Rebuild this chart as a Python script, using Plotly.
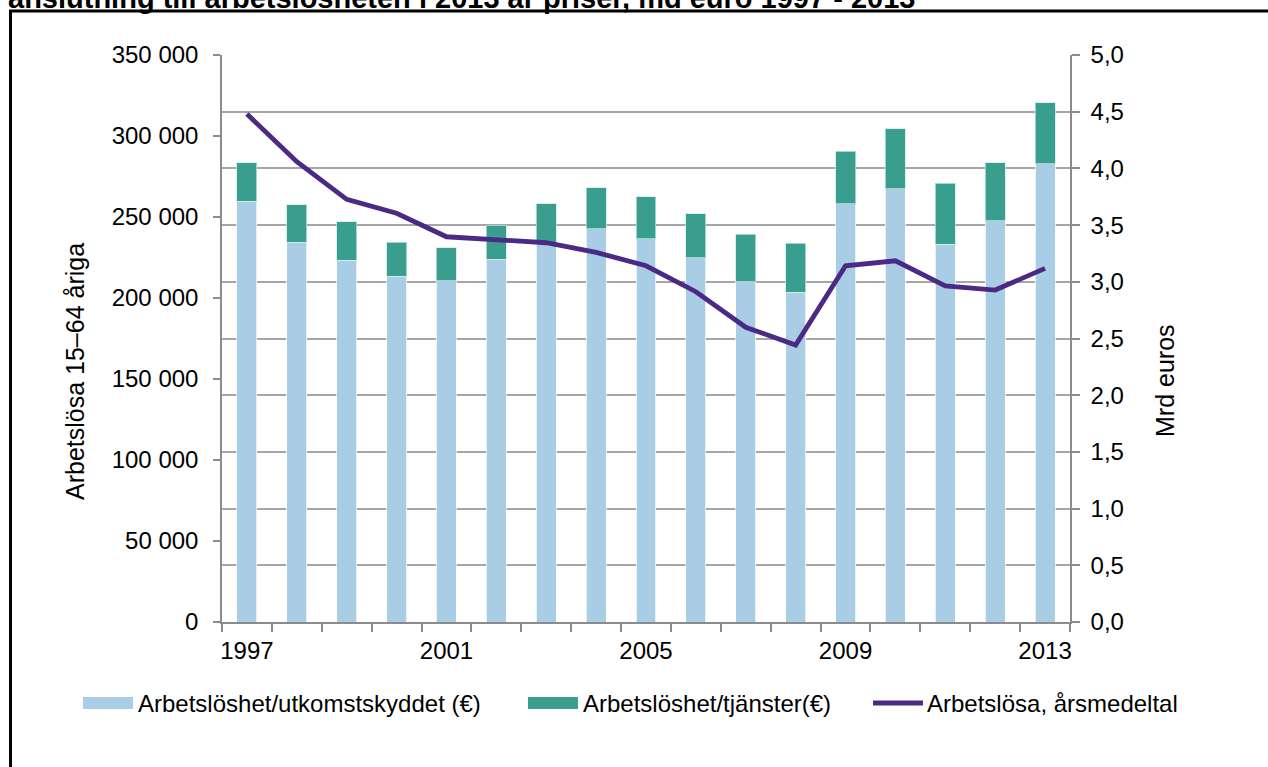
import plotly.graph_objects as go

years = list(range(1997, 2014))
utkomstskydd = [3.71, 3.35, 3.19, 3.05, 3.01, 3.20, 3.35, 3.47, 3.38, 3.21, 3.00, 2.91, 3.69, 3.82, 3.33, 3.54, 4.04]
tjanster = [0.34, 0.33, 0.34, 0.30, 0.29, 0.30, 0.34, 0.36, 0.37, 0.39, 0.42, 0.43, 0.46, 0.53, 0.54, 0.51, 0.54]
arbetslosa = [313600, 284100, 260900, 252300, 237800, 235800, 234100, 228200, 219900, 203900, 181900, 171000, 219900, 223000, 207400, 204900, 218300]
year_labels = [1997, 2001, 2005, 2009, 2013]
left_ticks = list(range(0, 350001, 50000))
right_ticks = [i * 0.5 for i in range(11)]
names = ["Arbetslöshet/utkomstskyddet (€)", "Arbetslöshet/tjänster(€)", "Arbetslösa, årsmedeltal"]
left_title = "Arbetslösa 15–64 åriga"
right_title = "Mrd euros"
title_text = "anslutning till arbetslösheten i 2013 år priser, md euro 1997 - 2013"

C_LIGHT = "#A9CDE4"
C_TEAL = "#3A9E8F"
C_LINE = "#4B2A86"
GRID = "#A6A6A6"
AX = "#8C8C8C"
FONT = "Liberation Sans, Arial, sans-serif"

W, H = 1268, 767
L, R, T, B = 222, 1070, 55, 622

def px(x):
    return (x - L) / (R - L)

def py(y):
    return (B - y) / (B - T)

fig = go.Figure()
fig.add_trace(go.Bar(x=years, y=utkomstskydd, name=names[0], yaxis="y", width=0.4,
                     marker=dict(color=C_LIGHT, line=dict(color="rgba(255,255,255,0.7)", width=1))))
fig.add_trace(go.Bar(x=years, y=tjanster, name=names[1], yaxis="y", width=0.4,
                     marker=dict(color=C_TEAL, line=dict(color="rgba(200,235,230,0.7)", width=1))))
fig.add_trace(go.Scatter(x=years, y=arbetslosa, name=names[2], yaxis="y2", mode="lines",
                         line=dict(color=C_LINE, width=4.8)))

shapes = [
    dict(type="rect", xref="paper", yref="paper", x0=px(10.5), x1=px(1290), y0=py(11), y1=py(800),
         line=dict(color="black", width=3), fillcolor="rgba(0,0,0,0)", layer="above"),
]
annotations = [
    dict(text="<b>" + title_text + "</b>", xref="paper", yref="paper", x=px(6), y=py(-2.5),
         xanchor="left", yanchor="middle", showarrow=False,
         font=dict(family=FONT, size=29, color="black")),
    dict(text=left_title, xref="paper", yref="paper", x=px(75), y=py(372), xanchor="center",
         yanchor="middle", textangle=-90, showarrow=False, font=dict(family=FONT, size=25, color="black")),
    dict(text=right_title, xref="paper", yref="paper", x=px(1165), y=py(381), xanchor="center",
         yanchor="middle", textangle=-90, showarrow=False, font=dict(family=FONT, size=25, color="black")),
]
# custom legend
leg_y = 703
leg_items = [(83, 136, "bar", C_LIGHT), (528, 581, "bar", C_TEAL), (873, 925, "line", C_LINE)]
for (sx, tx, kind, col), nm in zip(leg_items, names):
    if kind == "bar":
        shapes.append(dict(type="rect", xref="paper", yref="paper", x0=px(sx), x1=px(sx + 50),
                           y0=py(leg_y - 6), y1=py(leg_y + 6), fillcolor=col, line=dict(width=0)))
    else:
        shapes.append(dict(type="line", xref="paper", yref="paper", x0=px(sx), x1=px(sx + 50),
                           y0=py(leg_y), y1=py(leg_y), line=dict(color=col, width=4.8)))
    annotations.append(dict(text=nm, xref="paper", yref="paper", x=px(tx), y=py(leg_y), xanchor="left",
                            yanchor="middle", showarrow=False, font=dict(family=FONT, size=24, color="black")))

fig.update_layout(
    width=W, height=H,
    margin=dict(l=L, r=W - R, t=T, b=H - B, autoexpand=False),
    paper_bgcolor="white", plot_bgcolor="white",
    barmode="stack", showlegend=False,
    separators=", ",
    font=dict(family=FONT, size=24, color="black"),
    xaxis=dict(range=[1996.5, 2013.5], tickmode="array", tickvals=year_labels, ticks="",
               showgrid=False, showline=True, linecolor=AX, linewidth=1.5, zeroline=False,
               tickfont=dict(size=24), ticklabelstandoff=6,
               minor=dict(tickmode="array", tickvals=[y - 0.5 for y in years] + [2013.5], ticks="outside",
                          ticklen=8, tickcolor=AX, tickwidth=1.5, showgrid=False)),
    yaxis=dict(side="right", range=[0, 5], tickmode="array", tickvals=right_ticks, tickformat=".1f",
               showgrid=True, gridcolor=GRID, gridwidth=1.5, showline=True, linecolor=AX, linewidth=1.5,
               ticks="outside", ticklen=8, tickcolor=AX, tickwidth=1.5, zeroline=False,
               tickfont=dict(size=24), ticklabelstandoff=6),
    yaxis2=dict(side="left", overlaying="y", range=[0, 350000], tickmode="array", tickvals=left_ticks,
                tickformat=",d", showgrid=False, showline=True, linecolor=AX, linewidth=1.5,
                ticks="outside", ticklen=7, tickcolor=AX, tickwidth=1.5, zeroline=False,
                tickfont=dict(size=24), ticklabelstandoff=10),
    shapes=shapes,
    annotations=annotations,
)

fig.write_html("out.html", config={"displayModeBar": False},
               post_script="document.body.style.margin='0';document.body.style.overflow='hidden';")
